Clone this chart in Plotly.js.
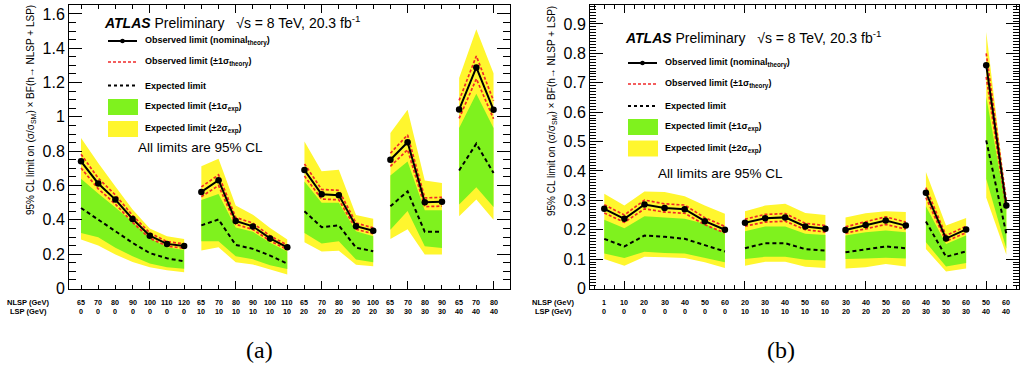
<!DOCTYPE html>
<html><head><meta charset="utf-8">
<script src="https://cdn.plot.ly/plotly-3.0.1.min.js"></script>
<style>html,body{margin:0;padding:0;background:#fff}#chart{width:1020px;height:367px}</style>
</head><body><div id="chart"></div>
<script>
// ---------- Panel (a) data ----------
const nlspA = [65,70,80,90,100,110,120, 65,70,80,90,100,110, 65,70,80,90,100, 65,70,80,90, 65,70,80];
const lspA  = [0,0,0,0,0,0,0, 10,10,10,10,10,10, 20,20,20,20,20, 30,30,30,30, 40,40,40];
const obsA   = [0.741,0.612,0.518,0.405,0.308,0.260,0.247, 0.563,0.631,0.394,0.362,0.292,0.240, 0.690,0.549,0.544,0.363,0.336, 0.750,0.852,0.502,0.505, 1.043,1.288,1.041];
const obsUpA = [0.782,0.643,0.545,0.426,0.324,0.273,0.260, 0.592,0.662,0.414,0.381,0.307,0.253, 0.726,0.577,0.572,0.382,0.353, 0.788,0.895,0.528,0.531, 1.096,1.355,1.094];
const obsDnA = [0.702,0.581,0.492,0.385,0.293,0.247,0.235, 0.535,0.600,0.374,0.344,0.277,0.228, 0.655,0.521,0.517,0.345,0.319, 0.712,0.809,0.477,0.480, 0.991,1.222,0.989];
const expA   = [0.469,0.400,0.334,0.266,0.206,0.176,0.158, 0.368,0.402,0.254,0.231,0.192,0.145, 0.450,0.357,0.368,0.238,0.217, 0.479,0.566,0.330,0.330, 0.688,0.844,0.673];
const s1UpA  = [0.640,0.553,0.472,0.388,0.295,0.240,0.224, 0.515,0.550,0.355,0.330,0.266,0.215, 0.624,0.499,0.500,0.334,0.304, 0.659,0.740,0.456,0.456, 0.935,1.135,0.935];
const s1DnA  = [0.324,0.298,0.237,0.188,0.145,0.124,0.115, 0.275,0.275,0.188,0.170,0.136,0.113, 0.324,0.262,0.275,0.169,0.153, 0.343,0.452,0.246,0.236, 0.489,0.590,0.475];
const s2UpA  = [0.877,0.731,0.595,0.460,0.350,0.305,0.289, 0.712,0.756,0.483,0.430,0.353,0.285, 0.857,0.683,0.692,0.428,0.407, 0.906,1.041,0.630,0.615, 1.226,1.511,1.255];
const s2DnA  = [0.285,0.250,0.198,0.155,0.124,0.107,0.095, 0.221,0.240,0.153,0.140,0.110,0.081, 0.270,0.216,0.220,0.139,0.129, 0.289,0.345,0.198,0.198, 0.421,0.518,0.401];

// ---------- Panel (b) data ----------
const nlspB = [1,10,20,30,40,50,60, 20,30,40,50,60, 30,40,50,60, 40,50,60, 50,60];
const lspB  = [0,0,0,0,0,0,0, 10,10,10,10,10, 20,20,20,20, 30,30,30, 40,40];
const obsB   = [0.271,0.237,0.286,0.274,0.270,0.229,0.200, 0.224,0.239,0.242,0.211,0.203, 0.199,0.216,0.231,0.214, 0.326,0.170,0.201, 0.760,0.282];
const obsUpB = [0.285,0.250,0.301,0.288,0.284,0.241,0.211, 0.236,0.252,0.255,0.222,0.214, 0.210,0.228,0.244,0.226, 0.343,0.180,0.212, 0.800,0.298];
const obsDnB = [0.257,0.225,0.271,0.260,0.256,0.217,0.189, 0.212,0.226,0.229,0.200,0.192, 0.188,0.204,0.218,0.202, 0.309,0.161,0.190, 0.720,0.267];
const expB   = [0.169,0.143,0.180,0.176,0.169,0.148,0.126, 0.137,0.154,0.154,0.134,0.129, 0.123,0.134,0.143,0.137, 0.228,0.108,0.126, 0.504,0.186];
const s1UpB  = [0.234,0.205,0.246,0.242,0.237,0.220,0.186, 0.195,0.211,0.211,0.186,0.182, 0.180,0.191,0.197,0.191, 0.280,0.151,0.180, 0.652,0.270];
const s1DnB  = [0.119,0.104,0.125,0.121,0.119,0.105,0.089, 0.100,0.108,0.108,0.098,0.095, 0.100,0.102,0.105,0.102, 0.157,0.075,0.087, 0.373,0.135];
const s2UpB  = [0.322,0.282,0.330,0.328,0.314,0.282,0.254, 0.263,0.282,0.288,0.257,0.250, 0.242,0.256,0.263,0.260, 0.396,0.214,0.240, 0.874,0.299];
const s2DnB  = [0.100,0.077,0.108,0.106,0.104,0.089,0.070, 0.077,0.091,0.091,0.074,0.070, 0.068,0.072,0.083,0.075, 0.134,0.058,0.068, 0.310,0.115];

// ---------- Text ----------
const yTitle = '95% CL limit on (σ/σ<sub>SM</sub>) × BF(h→ NLSP + LSP)';
const headerText = '<b><i>ATLAS</i></b> Preliminary   √s = 8 TeV, 20.3 fb<sup>-1</sup>';
const legendLabels = [
  'Observed limit (nominal<sub>theory</sub>)',
  'Observed limit (±1σ<sub>theory</sub>)',
  'Expected limit',
  'Expected limit (±1σ<sub>exp</sub>)',
  'Expected limit (±2σ<sub>exp</sub>)'
];
const clText = 'All limits are 95% CL';

// ---------- Styling ----------
const W = 1020, H = 367;
const PX = x => x / W, PY = y => (H - y) / H;
const GREEN = '#7ff21e', YELLOW = '#fff62e', RED = '#f02828';
const FONT = 'Liberation Sans, Arial, Helvetica, sans-serif';

function groupsOf(lsp) {
  const g = []; let start = 0;
  for (let i = 1; i <= lsp.length; i++) {
    if (i === lsp.length || lsp[i] !== lsp[start]) { g.push([start, i - 1]); start = i; }
  }
  return g;
}
function rng(a, b) { const r = []; for (let i = a; i <= b; i++) r.push(i); return r; }

const traces = [];
function addPanel(xa, ya, lsp, obs, obsUp, obsDn, exp, s1Up, s1Dn, s2Up, s2Dn) {
  const gs = groupsOf(lsp);
  const band = (up, dn, color) => gs.forEach(([a, b]) => {
    const idx = rng(a, b);
    traces.push({x: idx.concat(idx.slice().reverse()), y: idx.map(i => up[i]).concat(idx.slice().reverse().map(i => dn[i])),
      xaxis: xa, yaxis: ya, mode: 'lines', fill: 'toself', fillcolor: color, line: {width: 0}, hoverinfo: 'skip', showlegend: false});
  });
  band(s2Up, s2Dn, YELLOW);
  band(s1Up, s1Dn, GREEN);
  const line = (arr, style, extra) => gs.forEach(([a, b]) => {
    const idx = rng(a, b);
    traces.push(Object.assign({x: idx, y: idx.map(i => arr[i]), xaxis: xa, yaxis: ya, mode: 'lines', line: style, hoverinfo: 'skip', showlegend: false}, extra || {}));
  });
  line(exp, {color: '#000', width: 2, dash: '4px,3px'});
  line(obsUp, {color: RED, width: 1.7, dash: '3px,2px'});
  line(obsDn, {color: RED, width: 1.7, dash: '3px,2px'});
  line(obs, {color: '#000', width: 2}, {mode: 'lines+markers', marker: {color: '#000', size: 6.5}});
}
addPanel('x', 'y', lspA, obsA, obsUpA, obsDnA, expA, s1UpA, s1DnA, s2UpA, s2DnA);
addPanel('x2', 'y2', lspB, obsB, obsUpB, obsDnB, expB, s1UpB, s1DnB, s2UpB, s2DnB);

const annotations = [], shapes = [];
function catLabels(xref, nlsp, lsp, headX) {
  nlsp.forEach((v, i) => {
    annotations.push({xref, yref: 'paper', x: i, y: PY(302.5), text: String(v), showarrow: false, xanchor: 'center', yanchor: 'middle', font: {family: FONT, size: 7.2, weight: 'bold', color: '#000'}});
    annotations.push({xref, yref: 'paper', x: i, y: PY(311.5), text: String(lsp[i]), showarrow: false, xanchor: 'center', yanchor: 'middle', font: {family: FONT, size: 7.2, weight: 'bold', color: '#000'}});
  });
  annotations.push({xref: 'paper', yref: 'paper', x: PX(headX), y: PY(302.5), text: 'NLSP (GeV)', showarrow: false, xanchor: 'center', yanchor: 'middle', font: {family: FONT, size: 7.5, weight: 'bold', color: '#000'}});
  annotations.push({xref: 'paper', yref: 'paper', x: PX(headX), y: PY(311.5), text: 'LSP (GeV)', showarrow: false, xanchor: 'center', yanchor: 'middle', font: {family: FONT, size: 7.5, weight: 'bold', color: '#000'}});
}
catLabels('x', nlspA, lspA, 28);
catLabels('x2', nlspB, lspB, 553);

function legendBlock(headX, headY, sx0, sx1, tx, rows, clX, clY) {
  annotations.push({xref: 'paper', yref: 'paper', x: PX(headX), y: PY(headY), text: headerText, showarrow: false, xanchor: 'left', yanchor: 'middle', font: {family: FONT, size: 14, color: '#000'}});
  const mid = (sx0 + sx1) / 2;
  shapes.push({type: 'line', xref: 'paper', yref: 'paper', x0: PX(sx0), x1: PX(sx1), y0: PY(rows[0]), y1: PY(rows[0]), line: {color: '#000', width: 2}});
  shapes.push({type: 'circle', xref: 'paper', yref: 'paper', x0: PX(mid - 2.3), x1: PX(mid + 2.3), y0: PY(rows[0] - 2.3), y1: PY(rows[0] + 2.3), fillcolor: '#000', line: {color: '#000', width: 0}});
  shapes.push({type: 'line', xref: 'paper', yref: 'paper', x0: PX(sx0), x1: PX(sx1), y0: PY(rows[1]), y1: PY(rows[1]), line: {color: RED, width: 1.7, dash: '3px,2px'}});
  shapes.push({type: 'line', xref: 'paper', yref: 'paper', x0: PX(sx0), x1: PX(sx1), y0: PY(rows[2]), y1: PY(rows[2]), line: {color: '#000', width: 2, dash: '3px,3px'}});
  shapes.push({type: 'rect', xref: 'paper', yref: 'paper', x0: PX(sx0), x1: PX(sx1 + 1), y0: PY(rows[3] - 8), y1: PY(rows[3] + 8), fillcolor: GREEN, line: {width: 0}});
  shapes.push({type: 'rect', xref: 'paper', yref: 'paper', x0: PX(sx0), x1: PX(sx1 + 1), y0: PY(rows[4] - 8), y1: PY(rows[4] + 8), fillcolor: YELLOW, line: {width: 0}});
  legendLabels.forEach((t, k) => {
    annotations.push({xref: 'paper', yref: 'paper', x: PX(tx), y: PY(rows[k]), text: t, showarrow: false, xanchor: 'left', yanchor: 'middle', font: {family: FONT, size: 9, weight: 'bold', color: '#000'}});
  });
  annotations.push({xref: 'paper', yref: 'paper', x: PX(clX), y: PY(clY), text: clText, showarrow: false, xanchor: 'left', yanchor: 'middle', font: {family: FONT, size: 13.5, color: '#000'}});
}
legendBlock(102, 22, 108, 137, 143, [41, 62, 85.5, 107, 129], 136, 148);
legendBlock(623, 37, 628, 657, 663, [63, 84, 106, 127, 148.5], 656, 173);

// y titles
annotations.push({xref: 'paper', yref: 'paper', x: PX(31), y: PY(3), text: yTitle, textangle: -90, showarrow: false, xanchor: 'center', yanchor: 'top', font: {family: FONT, size: 10, color: '#000'}});
annotations.push({xref: 'paper', yref: 'paper', x: PX(552), y: PY(4), text: yTitle, textangle: -90, showarrow: false, xanchor: 'center', yanchor: 'top', font: {family: FONT, size: 10, color: '#000'}});
// captions
annotations.push({xref: 'paper', yref: 'paper', x: PX(259), y: PY(350), text: '(a)', showarrow: false, xanchor: 'center', yanchor: 'middle', font: {family: 'Liberation Serif, Times New Roman, serif', size: 24, color: '#000'}});
annotations.push({xref: 'paper', yref: 'paper', x: PX(781), y: PY(350), text: '(b)', showarrow: false, xanchor: 'center', yanchor: 'middle', font: {family: 'Liberation Serif, Times New Roman, serif', size: 24, color: '#000'}});

const axBase = {showline: true, linecolor: '#000', linewidth: 1, mirror: 'ticks', ticks: 'inside', tickcolor: '#000', showgrid: false, zeroline: false, fixedrange: true};
const yDom = [PY(288.5), PY(5)];
const layout = {
  width: W, height: H, margin: {l: 0, r: 0, t: 0, b: 0}, paper_bgcolor: '#fff', plot_bgcolor: '#fff', showlegend: false,
  font: {family: FONT, color: '#000'},
  xaxis: Object.assign({}, axBase, {domain: [PX(69), PX(509.5)], range: [-0.70, 24.93], showticklabels: false, tickmode: 'linear', tick0: 4, dtick: 5, ticklen: 8,
    minor: {tick0: 0, dtick: 1, ticklen: 4, ticks: 'inside', tickcolor: '#000', showgrid: false}, anchor: 'y'}),
  yaxis: Object.assign({}, axBase, {domain: yDom, range: [0, 1.652], tickmode: 'linear', tick0: 0, dtick: 0.2, ticklen: 13,
    minor: {tick0: 0, dtick: 0.05, ticklen: 7, ticks: 'inside', tickcolor: '#000', showgrid: false}, tickfont: {family: FONT, size: 16, color: '#000'}, anchor: 'x'}),
  xaxis2: Object.assign({}, axBase, {domain: [PX(590), PX(1019)], range: [-0.71, 20.63], showticklabels: false, tickmode: 'linear', tick0: 1, dtick: 6, ticklen: 8,
    minor: {tick0: 0, dtick: 0.5, ticklen: 4, ticks: 'inside', tickcolor: '#000', showgrid: false}, anchor: 'y2'}),
  yaxis2: Object.assign({}, axBase, {domain: yDom, range: [0, 0.9646], tickmode: 'linear', tick0: 0, dtick: 0.1, ticklen: 13,
    minor: {tick0: 0, dtick: 0.01, ticklen: 6, ticks: 'inside', tickcolor: '#000', showgrid: false}, tickfont: {family: FONT, size: 16, color: '#000'}, anchor: 'x2'}),
  annotations, shapes
};
Plotly.newPlot('chart', traces, layout, {staticPlot: true, displayModeBar: false});
</script>
</body></html>
